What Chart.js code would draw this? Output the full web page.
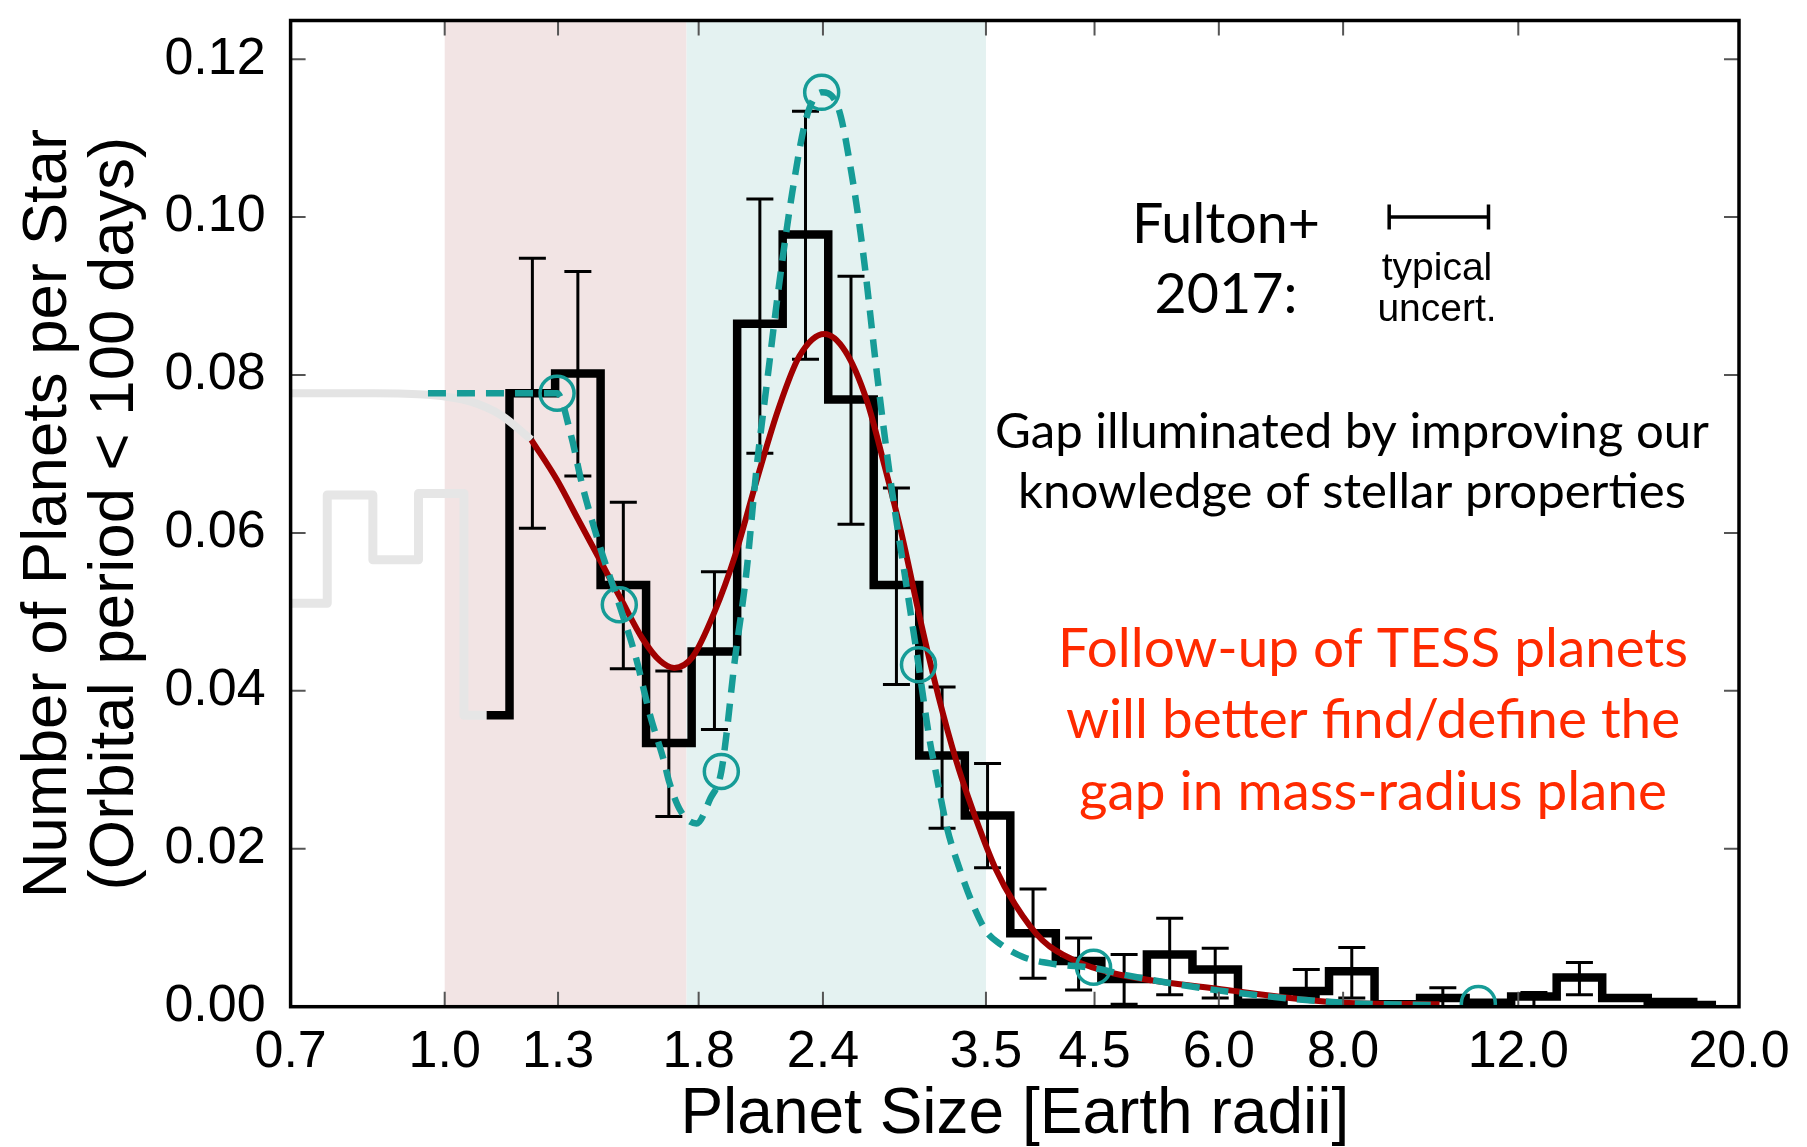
<!DOCTYPE html>
<html><head><meta charset="utf-8">
<script src="https://cdn.jsdelivr.net/npm/chart.js@4.4.1/dist/chart.umd.min.js"></script>
<style>html,body{margin:0;padding:0;background:#fff;overflow:hidden}canvas{display:block}</style>
</head><body>
<canvas id="c" width="1807" height="1147"></canvas>
<script>
// ---------- data ----------
const xTickValues = [0.7, 1.0, 1.3, 1.8, 2.4, 3.5, 4.5, 6.0, 8.0, 12.0, 20.0];
const yTickValues = [0, 0.02, 0.04, 0.06, 0.08, 0.10, 0.12];

// shaded bands (planet size boundaries)
const shadeBounds = [1.0, 1.75, 3.5];

// histogram (values at bin centres, steps midway)
const grayBinCenters = [0.700, 0.723, 0.803, 0.893, 0.992, 1.102];
const grayBinValues  = [0.0511, 0.0511, 0.0648, 0.0566, 0.0650, 0.0369];
const binCenters = [1.102, 1.225, 1.361, 1.512, 1.680, 1.867, 2.074, 2.305, 2.561, 2.845, 3.162, 3.513, 3.903, 4.337, 4.819, 5.355, 5.950, 6.611, 7.346, 8.162, 9.069, 10.077, 11.197, 12.442, 13.824, 15.361, 17.068, 18.965];
const binValues  = [0.0369, 0.0777, 0.0802, 0.0534, 0.0334, 0.0450, 0.0865, 0.0978, 0.0769, 0.0534, 0.0318, 0.0242, 0.0093, 0.0058, 0.0035, 0.0066, 0.0047, 0.0005, 0.0020, 0.0045, 0.0003, 0.0011, 0.0005, 0.0013, 0.0037, 0.0011, 0.0006, 0.0002];
const errLow  = [null, 0.0606, 0.0672, 0.0428, 0.0241, 0.0351, 0.0701, 0.0820, 0.0611, 0.0408, 0.0226, 0.0176, 0.0036, 0.0021, 0.0003, 0.0015, 0.0011, null, 0.0013, 0.0011, null, 0.0000, null, 0.0000, 0.0015, null, null, null];
const errHigh = [null, 0.0948, 0.0931, 0.0639, 0.0425, 0.0551, 0.1023, 0.1134, 0.0925, 0.0657, 0.0405, 0.0308, 0.0149, 0.0087, 0.0066, 0.0112, 0.0074, null, 0.0047, 0.0075, null, 0.0024, null, 0.0018, 0.0056, null, null, null];

// smooth fit (red) and its grey extension
const grayFitX = [0.70, 0.85, 0.962, 1.064, 1.14, 1.222];
const grayFitY = [0.0777, 0.0777, 0.0775, 0.0766, 0.0749, 0.0718];
const redFitX = [1.222, 1.297, 1.362, 1.432, 1.504, 1.581, 1.646, 1.701, 1.775, 1.866, 1.959, 2.059, 2.165, 2.273, 2.408, 2.528, 2.656, 2.769, 2.885, 3.009, 3.136, 3.27, 3.353, 3.447, 3.575, 3.742, 3.99, 4.29, 4.71, 5.96, 8.0, 10.0];
const redFitY = [0.0718, 0.0667, 0.0617, 0.0566, 0.0516, 0.0466, 0.0438, 0.0429, 0.0443, 0.0499, 0.0572, 0.0667, 0.0757, 0.0824, 0.0852, 0.0830, 0.0768, 0.0684, 0.0594, 0.0488, 0.0393, 0.0310, 0.0268, 0.0226, 0.0176, 0.0130, 0.0084, 0.0059, 0.0042, 0.0023, 0.0005, 0.0003];

// dashed teal curve
const tealX = [0.962, 1.10, 1.20, 1.297, 1.340, 1.374, 1.432, 1.498, 1.556, 1.608, 1.662, 1.681, 1.728, 1.791, 1.850, 1.897, 1.959, 2.008, 2.059, 2.111, 2.165, 2.236, 2.311, 2.393, 2.487, 2.570, 2.635, 2.723, 2.814, 2.908, 2.994, 3.073, 3.112, 3.199, 3.29, 3.384, 3.5, 3.612, 3.815, 4.10, 4.49, 4.84, 5.96, 8.0, 10.0];
const tealY = [0.0777, 0.0777, 0.0777, 0.0777, 0.0723, 0.0662, 0.0583, 0.0509, 0.0443, 0.0370, 0.0310, 0.0285, 0.0247, 0.0232, 0.0264, 0.0298, 0.0443, 0.0544, 0.0684, 0.0796, 0.0908, 0.1032, 0.1127, 0.1158, 0.1138, 0.1048, 0.0953, 0.0796, 0.0656, 0.0538, 0.0433, 0.0337, 0.0301, 0.0226, 0.0176, 0.0134, 0.0096, 0.0080, 0.0063, 0.0054, 0.0049, 0.0040, 0.0021, 0.0005, 0.0002];

// teal circle markers
const circleX = [1.297, 1.498, 1.897, 2.393, 2.994, 4.49, 10.94];
const circleY = [0.0777, 0.0509, 0.0298, 0.1158, 0.0433, 0.0050, 0.0004];

// "typical uncert." bar
const uncertX = [8.9, 11.2];
const uncertY = 0.10;

// ---------- build datasets ----------
const zipXY = (xs, ys) => xs.map((x, i) => ({x, y: ys[i]}));
const errPts = [];
binCenters.forEach((c, i) => {
  if (errLow[i] !== null) {
    errPts.push({x: c, y: errLow[i]}, {x: c, y: errHigh[i]}, {x: c, y: null});
  }
});

const TEAL = '#169c97', RED = '#a00000';

const shadePlugin = {
  id: 'shade',
  beforeDatasetsDraw(chart) {
    const {ctx, chartArea: a, scales: {x}} = chart;
    const cols = ['#f2e4e4', '#e4f2f1'];
    ctx.save();
    for (let i = 0; i < shadeBounds.length - 1; i++) {
      const x0 = x.getPixelForValue(shadeBounds[i]), x1 = x.getPixelForValue(shadeBounds[i + 1]);
      ctx.fillStyle = cols[i];
      ctx.fillRect(x0, a.top, x1 - x0, a.bottom - a.top);
    }
    ctx.restore();
  }
};

const framePlugin = {
  id: 'frame',
  afterDatasetsDraw(chart) {
    const {ctx, chartArea: a, scales: {x, y}} = chart;
    ctx.save();
    ctx.strokeStyle = '#555';
    ctx.lineWidth = 2;
    const L = 15;
    ctx.beginPath();
    xTickValues.forEach(v => {
      const px = x.getPixelForValue(v);
      if (px <= a.left + 2 || px >= a.right - 2) return;
      ctx.moveTo(px, a.bottom); ctx.lineTo(px, a.bottom - L);
      ctx.moveTo(px, a.top); ctx.lineTo(px, a.top + L);
    });
    yTickValues.forEach(v => {
      const py = y.getPixelForValue(v);
      if (py >= a.bottom - 2) return;
      ctx.moveTo(a.left, py); ctx.lineTo(a.left + L, py);
      ctx.moveTo(a.right, py); ctx.lineTo(a.right - L, py);
    });
    ctx.stroke();
    ctx.strokeStyle = '#000';
    ctx.lineWidth = 3.5;
    ctx.strokeRect(a.left, a.top, a.right - a.left, a.bottom - a.top);
    ctx.restore();
  }
};

function fitText(ctx, lines, cx, baselines, targetW, family, color) {
  ctx.font = `100px ${family}`;
  const w = ctx.measureText(lines[0]).width;
  const size = 100 * targetW / w;
  ctx.font = `${size}px ${family}`;
  ctx.fillStyle = color;
  ctx.textAlign = 'center';
  ctx.textBaseline = 'alphabetic';
  lines.forEach((l, i) => ctx.fillText(l, cx, baselines[i]));
}

const textPlugin = {
  id: 'notes',
  afterDraw(chart) {
    const ctx = chart.ctx;
    ctx.save();
    fitText(ctx, ['Fulton+', '2017:'], 1226, [243, 313], 188, 'Lato', '#000');
    ctx.font = '39px "Liberation Sans"';
    ctx.fillStyle = '#000'; ctx.textAlign = 'center'; ctx.textBaseline = 'alphabetic';
    ctx.fillText('typical', 1437, 280);
    ctx.fillText('uncert.', 1437, 321);
    fitText(ctx, ['Gap illuminated by improving our', 'knowledge of stellar properties'], 1352, [448, 508], 714, 'Lato', '#000');
    fitText(ctx, ['Follow-up of TESS planets', 'will better find/define the', 'gap in mass-radius plane'], 1373, [667, 738, 810], 630, 'Lato', '#ff2a00');
    ctx.restore();
  }
};

new Chart(document.getElementById('c'), {
  type: 'line',
  data: {
    datasets: [
      { label: 'grayHist', data: zipXY(grayBinCenters, grayBinValues), stepped: 'middle',
        borderColor: '#e6e6e6', borderWidth: 9, borderJoinStyle: 'round', borderCapStyle: 'round', pointRadius: 0, order: 10 },
      { label: 'hist', data: zipXY(binCenters, binValues), stepped: 'middle',
        borderColor: '#000', borderWidth: 8.5, borderJoinStyle: 'miter', pointRadius: 0, order: 8 },
      { label: 'err', data: errPts, borderColor: '#000', borderWidth: 3, spanGaps: false,
        pointStyle: 'line', pointRadius: 13.5, pointBorderWidth: 3, pointBorderColor: '#000', order: 7 },
      { label: 'grayFit', data: zipXY(grayFitX, grayFitY), cubicInterpolationMode: 'monotone',
        borderColor: '#e4e4e4', borderWidth: 8, pointRadius: 0, order: 6 },
      { label: 'red', data: zipXY(redFitX, redFitY), cubicInterpolationMode: 'monotone',
        borderColor: RED, borderWidth: 6, pointRadius: 0, order: 5 },
      { label: 'teal', data: zipXY(tealX, tealY), cubicInterpolationMode: 'monotone',
        borderColor: TEAL, borderWidth: 6.5, borderDash: [18, 11], pointRadius: 0, order: 4 },
      { label: 'circles', data: zipXY(circleX, circleY), showLine: false,
        pointStyle: 'circle', pointRadius: 17, pointBorderWidth: 3.5, pointBorderColor: TEAL,
        pointBackgroundColor: 'rgba(0,0,0,0)', order: 2 },
      { label: 'uncert', data: uncertX.map(x => ({x, y: uncertY})), borderColor: '#000', borderWidth: 3.5,
        pointStyle: 'line', pointRotation: 90, pointRadius: 12.5, pointBorderWidth: 3.5, pointBorderColor: '#000', order: 1 }
    ]
  },
  options: {
    responsive: false,
    animation: false,
    devicePixelRatio: 1,
    layout: { padding: { top: 12, right: 68, left: 0, bottom: 0 } },
    plugins: { legend: { display: false }, tooltip: { enabled: false } },
    elements: { line: { tension: 0.4 } },
    scales: {
      x: {
        type: 'logarithmic', min: 0.7, max: 20,
        grid: { display: false, drawTicks: false },
        border: { display: false },
        afterBuildTicks: s => { s.ticks = xTickValues.map(v => ({value: v})); },
        afterFit: s => { s.height = 140.3; s.paddingLeft = 0; s.paddingRight = 0; },
        ticks: { autoSkip: false, maxRotation: 0, padding: 15, color: '#000',
          font: { family: '"Liberation Sans", Arial, sans-serif', size: 52 },
          callback: (v, i, t) => Number(t[i].value).toFixed(1) },
        title: { display: true, text: 'Planet Size [Earth radii]', color: '#000',
          font: { family: '"Liberation Sans", Arial, sans-serif', size: 64, lineHeight: 1 },
          padding: { top: 0, bottom: 0 } }
      },
      y: {
        type: 'linear', min: 0, max: 0.1249,
        grid: { display: false, drawTicks: false },
        border: { display: false },
        afterBuildTicks: s => { s.ticks = yTickValues.map(v => ({value: v})); },
        afterFit: s => { s.width = 290.6; s.paddingTop = 0; s.paddingBottom = 0; },
        ticks: { padding: 25, color: '#000',
          font: { family: '"Liberation Sans", Arial, sans-serif', size: 52 },
          callback: (v, i, t) => Number(t[i].value).toFixed(2) },
        title: { display: true, text: ['Number of Planets per Star', '(Orbital period < 100 days)'], color: '#000',
          font: { family: '"Liberation Sans", Arial, sans-serif', size: 63.5, lineHeight: 1.055 },
          padding: { top: 14.5, bottom: 0 } }
      }
    }
  },
  plugins: [shadePlugin, framePlugin, textPlugin]
});
</script>
</body></html>
